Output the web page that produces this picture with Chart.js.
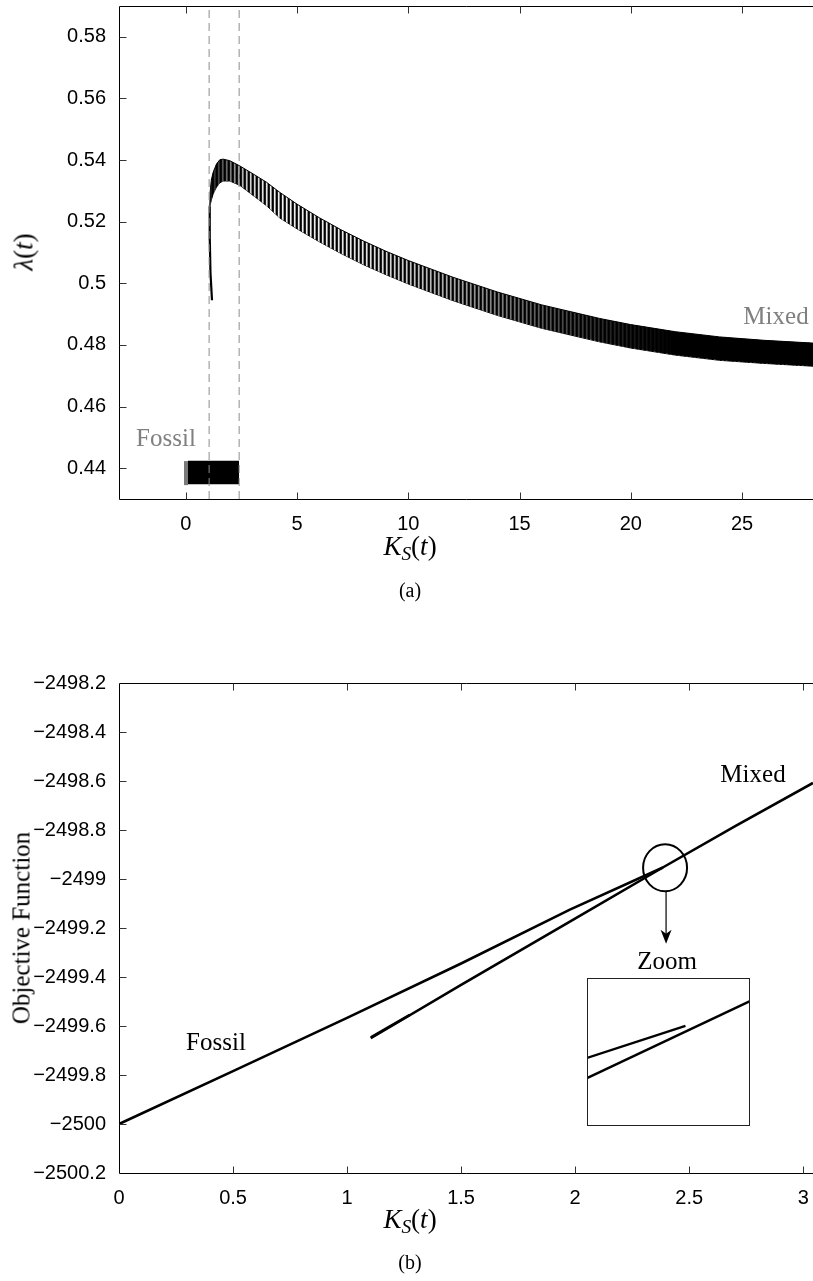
<!DOCTYPE html>
<html><head><meta charset="utf-8">
<script src="https://cdn.jsdelivr.net/npm/chart.js@4.4.1/dist/chart.umd.min.js"></script>
<style>
html,body{margin:0;padding:0;background:#fff;width:813px;height:1281px;overflow:hidden;position:relative;}
canvas{position:absolute;}
.lbl{position:absolute;transform:translate(-50%,-50%);white-space:nowrap;line-height:1;font-family:"Liberation Serif","Times New Roman",serif;font-size:25px;color:#000;}
.rot{transform:translate(-50%,-50%) rotate(-90deg);}
.m sub{font-size:0.72em;vertical-align:-0.28em;line-height:0;}
</style></head><body>
<canvas id="cA" width="813" height="620" style="left:0;top:0"></canvas>
<canvas id="cB" width="813" height="641" style="left:0;top:640px"></canvas>
<canvas id="cI" width="163" height="148" style="left:587px;top:978px"></canvas>

<div class="lbl" style="left:166px;top:437px;color:#808080">Fossil</div>
<div class="lbl" style="left:776px;top:315px;color:#808080">Mixed</div>
<div class="lbl m rot" style="left:24px;top:252px;font-size:27px"><i>λ</i>(<i>t</i>)</div>
<div class="lbl m" style="left:410px;top:546px;font-size:27px"><i>K</i><sub><i>S</i></sub>(<i>t</i>)</div>
<div class="lbl" style="left:410px;top:590px;font-size:20px">(a)</div>

<div class="lbl" style="left:753px;top:773px">Mixed</div>
<div class="lbl" style="left:216px;top:1041px">Fossil</div>
<div class="lbl" style="left:667px;top:960px">Zoom</div>
<div class="lbl rot" style="left:21px;top:928px">Objective Function</div>
<div class="lbl m" style="left:410px;top:1219px;font-size:27px"><i>K</i><sub><i>S</i></sub>(<i>t</i>)</div>
<div class="lbl" style="left:410px;top:1262px;font-size:20px">(b)</div>

<script>
// ================= DATA : panel (a) =================
const aXTicks = [0, 5, 10, 15, 20, 25];
const aXTickLabels = ['0', '5', '10', '15', '20', '25'];
const aYTicks = [0.44, 0.46, 0.48, 0.50, 0.52, 0.54, 0.56, 0.58];
const aYTickLabels = ['0.44', '0.46', '0.48', '0.5', '0.52', '0.54', '0.56', '0.58'];
const aXLimits = [-3, 28.19];
const aYLimits = [0.43, 0.59];

// Fossil regime: dense oscillation band
const fossilBandX = [0.10, 2.40];
const fossilBandUpper = [0.4424, 0.4424];
const fossilBandLower = [0.4348, 0.4348];
const fossilStartX = [-0.08, 0.10];
const fossilStartUpper = [0.4423, 0.4423];
const fossilStartLower = [0.4345, 0.4345];

// Mixed regime: initial rise, then oscillation band (upper / lower envelope)
const mixedRiseX = [1.18, 1.11, 1.08, 1.075, 1.08];
const mixedRiseY = [0.4945, 0.5035, 0.5143, 0.5200, 0.5250];
const mixedBandX = [1.08, 1.10, 1.15, 1.23, 1.38, 1.53, 1.68, 1.98, 2.43, 3.03, 3.63, 4.23,
                    5, 6, 7, 8, 9, 10, 12, 14, 16, 18.6, 20, 22, 24, 26, 28.19];
const mixedBandUpper = [0.5250, 0.5300, 0.5335, 0.5360, 0.5387, 0.5401, 0.5403, 0.5398, 0.5381, 0.5355, 0.5328, 0.5295,
                        0.5257, 0.5213, 0.5173, 0.5137, 0.5104, 0.5074, 0.5020, 0.4972, 0.4930, 0.4886, 0.4866, 0.4843, 0.4826, 0.4815, 0.4806];
const mixedBandLower = [0.5250, 0.5255, 0.5270, 0.5290, 0.5312, 0.5326, 0.5332, 0.5332, 0.5318, 0.5285, 0.5252, 0.5212,
                        0.5177, 0.5135, 0.5096, 0.5060, 0.5028, 0.4998, 0.4944, 0.4896, 0.4854, 0.4810, 0.4790, 0.4767, 0.4750, 0.4740, 0.4731];

// regime switch markers (dashed verticals)
const switchX = [1.05, 2.40];

// ================= DATA : panel (b) =================
const bXTicks = [0, 0.5, 1, 1.5, 2, 2.5, 3];
const bXTickLabels = ['0', '0.5', '1', '1.5', '2', '2.5', '3'];
const bYTicks = [-2500.2, -2500.0, -2499.8, -2499.6, -2499.4, -2499.2, -2499.0, -2498.8, -2498.6, -2498.4, -2498.2];
const bYTickLabels = ['\u22122500.2', '\u22122500', '\u22122499.8', '\u22122499.6', '\u22122499.4', '\u22122499.2',
                      '\u22122499', '\u22122498.8', '\u22122498.6', '\u22122498.4', '\u22122498.2'];
const bXLimits = [0, 3.043];
const bYLimits = [-2500.2, -2498.2];

const fossilObjX = [0, 0.5, 1.0, 1.5, 1.977, 2.385];
const fossilObjY = [-2500.0, -2499.784, -2499.567, -2499.345, -2499.125, -2498.953];
const mixedObjX = [1.104, 1.5, 1.977, 2.39, 2.7, 3.043];
const mixedObjY = [-2499.650, -2499.432, -2499.174, -2498.950, -2498.785, -2498.608];
const mixedObjEarlyX = [1.104, 1.275];
const mixedObjEarlyY = [-2499.646, -2499.555];
const zoomAnchor = {x: 2.39, y: -2498.95};

// inset (zoomed view around the anchor)
const insetXLimits = [2.35, 2.40];
const insetYLimits = [-2498.995, -2498.945];
const insetFossilX = [2.35, 2.3802];
const insetFossilY = [-2498.9720, -2498.9612];
const insetMixedX = [2.35, 2.40];
const insetMixedY = [-2498.9788, -2498.9528];

// ================= helpers / styles =================
const pts = (xs, ys) => xs.map((x, i) => ({x: x, y: ys[i]}));
const SANS = '"Liberation Sans", Arial, Helvetica, sans-serif';
const TICKFONT = {family: SANS, size: 20};

function stripePattern() {
  const c = document.createElement('canvas');
  c.width = 4; c.height = 1;
  const g = c.getContext('2d');
  const cols = ['#000', '#222', '#fff', '#999'];
  cols.forEach((col, i) => { g.fillStyle = col; g.fillRect(i, 0, 1, 1); });
  return g.createPattern(c, 'repeat');
}
// shading density of the dense oscillation (style)
const shadeStops = [[1.0, 0.9], [1.8, 0.6], [2.8, 0.2], [4, 0.05], [8, 0.1], [12, 0.35], [16, 0.65], [19, 0.85], [22, 1.0], [28.19, 1.0]];
function shadeGradient(ctx) {
  const ch = ctx.chart, xs = ch.scales && ch.scales.x;
  if (!xs || !ch.chartArea) return 'rgba(0,0,0,0.5)';
  const x0 = xs.getPixelForValue(shadeStops[0][0]);
  const x1 = xs.getPixelForValue(shadeStops[shadeStops.length - 1][0]);
  const g = ch.ctx.createLinearGradient(x0, 0, x1, 0);
  shadeStops.forEach(s => {
    const p = (xs.getPixelForValue(s[0]) - x0) / (x1 - x0);
    g.addColorStop(Math.min(1, Math.max(0, p)), 'rgba(0,0,0,' + s[1] + ')');
  });
  return g;
}

function framePlugin() {
  return {
    id: 'frame',
    afterDraw(chart) {
      const {ctx, chartArea: a, scales: {x, y}} = chart;
      const L = Math.floor(a.left) + 0.5, T = Math.floor(a.top) + 0.5, B = Math.floor(a.bottom) + 0.5, R = a.right + 2;
      ctx.save();
      ctx.strokeStyle = '#000'; ctx.lineWidth = 1;
      ctx.beginPath();
      ctx.moveTo(R, T); ctx.lineTo(L, T); ctx.lineTo(L, B); ctx.lineTo(R, B);
      ctx.stroke();
      ctx.strokeStyle = '#333';
      ctx.beginPath();
      y.ticks.forEach(t => {
        const py = Math.round(y.getPixelForValue(t.value)) + 0.5;
        if (py < T + 1 || py > B - 1) return;
        ctx.moveTo(L, py); ctx.lineTo(L + 7, py);
      });
      x.ticks.forEach(t => {
        const px = Math.round(x.getPixelForValue(t.value)) + 0.5;
        if (px < L + 1) return;
        ctx.moveTo(px, B); ctx.lineTo(px, B - 7);
        ctx.moveTo(px, T); ctx.lineTo(px, T + 7);
      });
      ctx.stroke();
      ctx.restore();
    }
  };
}

function axisOpts(limits, ticks, labels, isX, size) {
  return {
    type: 'linear', min: limits[0], max: limits[1],
    afterBuildTicks: s => { s.ticks = ticks.map(v => ({value: v})); },
    ticks: {callback: (v, i) => labels[i], font: TICKFONT, color: '#000', padding: 5,
            autoSkip: false, maxRotation: 0, minRotation: 0},
    grid: {display: false}, border: {display: false},
    afterFit: s => {
      if (isX) { s.height = size; } else { s.width = size; }
      s.paddingLeft = 0; s.paddingRight = 0; s.paddingTop = 0; s.paddingBottom = 0;
    }
  };
}

const common = {
  responsive: false, animation: false, events: [],
  plugins: {legend: {display: false}, tooltip: {enabled: false}},
  elements: {point: {radius: 0}, line: {tension: 0}}
};

// ================= Chart (a) =================
const line = (data, extra) => Object.assign({data: data, borderColor: '#000', borderWidth: 1, fill: false, pointRadius: 0}, extra || {});
const dsA = [
  // 0,1: shading overlay for dense oscillation
  line(pts(mixedBandX, mixedBandUpper), {borderWidth: 0, fill: '+1', backgroundColor: shadeGradient, order: 1}),
  line(pts(mixedBandX, mixedBandLower), {borderWidth: 0, order: 1}),
  // 2,3: oscillation band texture with envelope edges
  line(pts(mixedBandX, mixedBandUpper), {borderWidth: 1, fill: '+1', backgroundColor: stripePattern(), order: 2}),
  line(pts(mixedBandX, mixedBandLower), {borderWidth: 1, order: 2}),
  // 4: initial rise of mixed trajectory
  line(pts(mixedRiseX, mixedRiseY), {borderWidth: 2.2, order: 0}),
  // 5,6: fossil band
  line(pts(fossilBandX, fossilBandUpper), {borderWidth: 0, fill: '+1', backgroundColor: '#000', order: 1}),
  line(pts(fossilBandX, fossilBandLower), {borderWidth: 0, order: 1}),
  // 7,8: fossil start (grey)
  line(pts(fossilStartX, fossilStartUpper), {borderWidth: 0, fill: '+1', backgroundColor: '#7a7a7a', order: 1}),
  line(pts(fossilStartX, fossilStartLower), {borderWidth: 0, order: 1}),
];
switchX.forEach(v => dsA.push(line([{x: v, y: aYLimits[0]}, {x: v, y: aYLimits[1]}],
  {borderColor: '#8c8c8c', borderWidth: 1, borderDash: [8, 5], order: -1})));

new Chart(document.getElementById('cA'), {
  type: 'line',
  data: {datasets: dsA},
  options: Object.assign({}, common, {
    layout: {padding: {left: 0, top: 6, right: 0, bottom: 0}},
    scales: {
      x: axisOpts(aXLimits, aXTicks, aXTickLabels, true, 620 - 499),
      y: axisOpts(aYLimits, aYTicks, aYTickLabels, false, 119)
    }
  }),
  plugins: [framePlugin()]
});

// ================= Chart (b) =================
const annotPlugin = {
  id: 'annot',
  afterDatasetsDraw(chart) {
    const {ctx, scales: {x, y}} = chart;
    const cx = x.getPixelForValue(zoomAnchor.x) + 1, cy = y.getPixelForValue(zoomAnchor.y) + 1;
    ctx.save();
    ctx.strokeStyle = '#000'; ctx.fillStyle = '#000';
    ctx.lineWidth = 2;
    ctx.beginPath(); ctx.ellipse(cx, cy, 22, 23.5, 0, 0, Math.PI * 2); ctx.stroke();
    ctx.lineWidth = 1.2;
    ctx.beginPath(); ctx.moveTo(cx + 1, cy + 23.5); ctx.lineTo(cx + 1, cy + 68); ctx.stroke();
    ctx.beginPath();
    ctx.moveTo(cx + 1, cy + 76); ctx.lineTo(cx - 4.5, cy + 62); ctx.lineTo(cx + 1, cy + 66); ctx.lineTo(cx + 6.5, cy + 62);
    ctx.closePath(); ctx.fill();
    ctx.restore();
  }
};
new Chart(document.getElementById('cB'), {
  type: 'line',
  data: {datasets: [
    line(pts(fossilObjX, fossilObjY), {borderWidth: 2.6}),
    line(pts(mixedObjX, mixedObjY), {borderWidth: 2.6}),
    line(pts(mixedObjEarlyX, mixedObjEarlyY), {borderWidth: 2.6})
  ]},
  options: Object.assign({}, common, {
    layout: {padding: {left: 0, top: 683 - 640, right: 0, bottom: 0}},
    scales: {
      x: axisOpts(bXLimits, bXTicks, bXTickLabels, true, 1281 - 1173),
      y: axisOpts(bYLimits, bYTicks, bYTickLabels, false, 119)
    }
  }),
  plugins: [framePlugin(), annotPlugin]
});

// ================= Inset =================
const insetBox = {
  id: 'insetBox',
  afterDraw(chart) {
    const ctx = chart.ctx;
    ctx.save(); ctx.strokeStyle = '#222'; ctx.lineWidth = 1;
    ctx.strokeRect(0.5, 0.5, chart.width - 1, chart.height - 1);
    ctx.restore();
  }
};
new Chart(document.getElementById('cI'), {
  type: 'line',
  data: {datasets: [
    line(pts(insetFossilX, insetFossilY), {borderWidth: 2.4}),
    line(pts(insetMixedX, insetMixedY), {borderWidth: 2.4})
  ]},
  options: Object.assign({}, common, {
    layout: {padding: 0},
    scales: {
      x: {type: 'linear', display: false, min: insetXLimits[0], max: insetXLimits[1]},
      y: {type: 'linear', display: false, min: insetYLimits[0], max: insetYLimits[1]}
    }
  }),
  plugins: [insetBox]
});
</script>
</body></html>
